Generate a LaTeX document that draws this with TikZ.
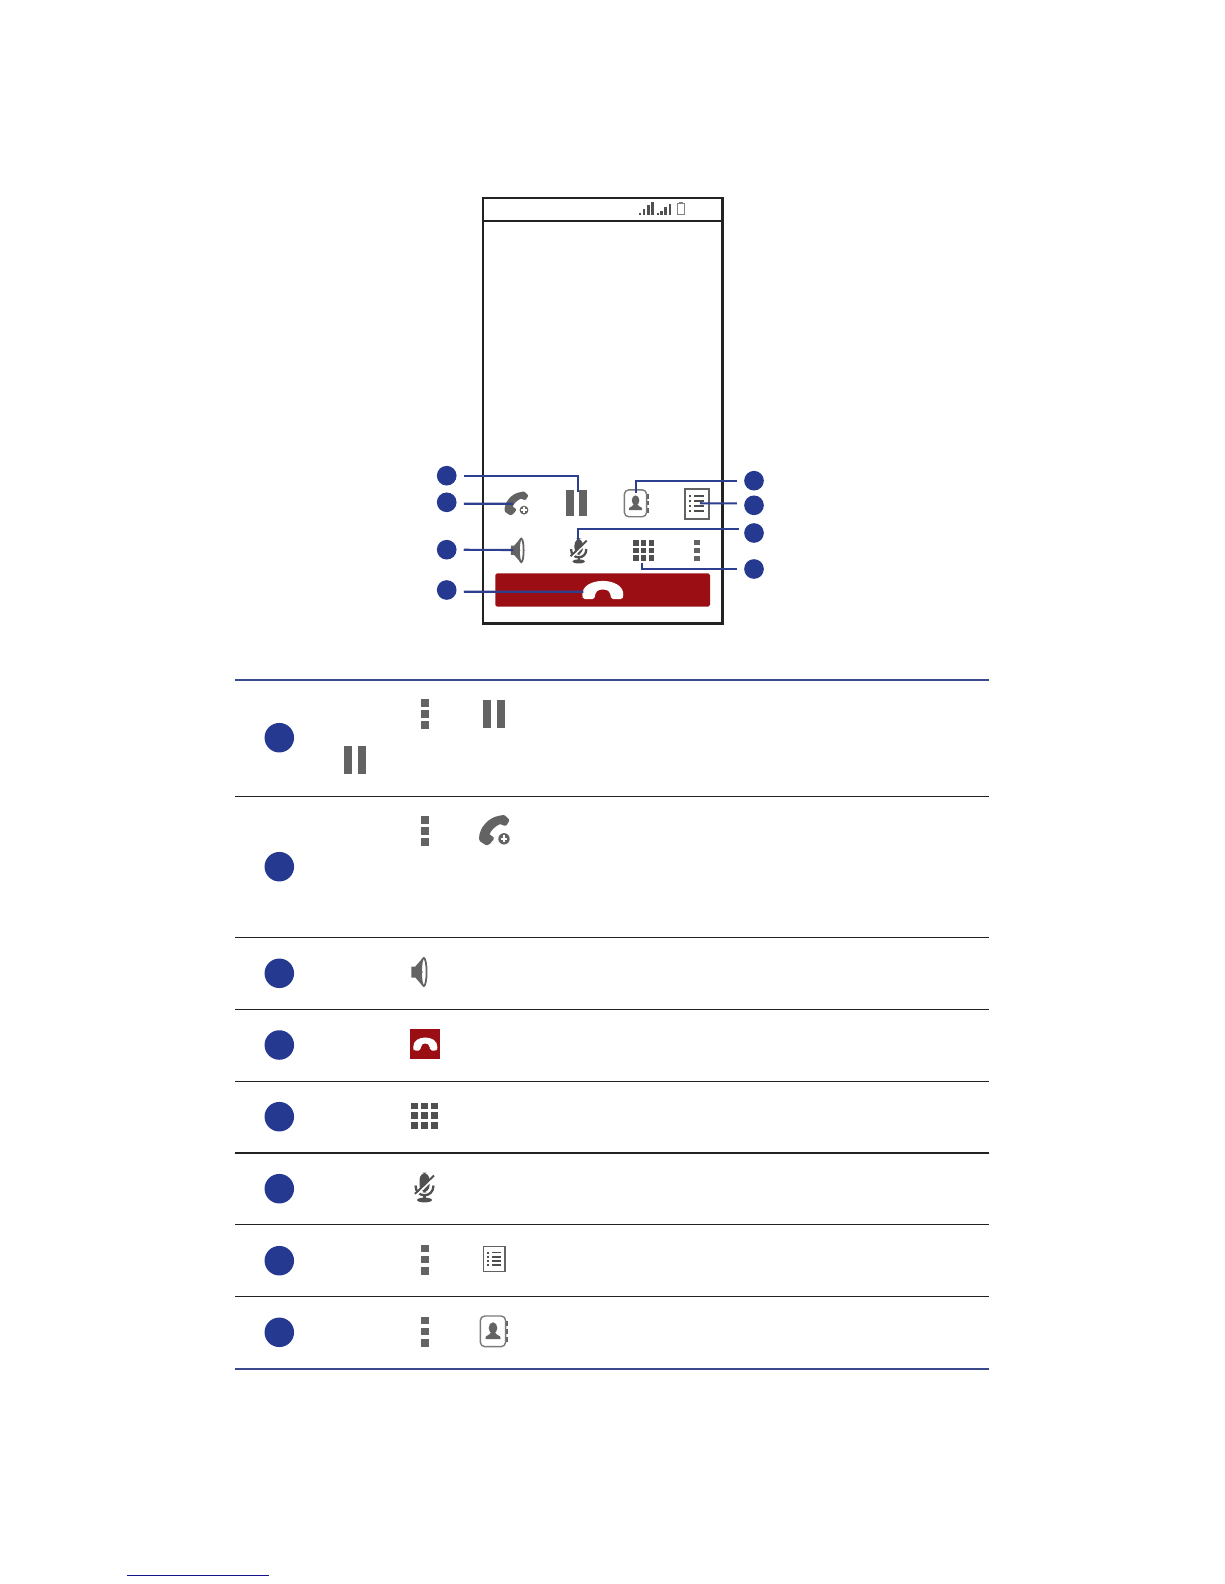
\documentclass[tikz,border=0pt]{standalone}
\usepackage{xcolor}
\usetikzlibrary{arrows.meta,calc}
\definecolor{bulletblue}{HTML}{24398F}
\definecolor{leaderblue}{HTML}{2D3F8E}
\definecolor{ruleblue}{HTML}{3A4A8C}
\definecolor{icongray}{HTML}{636363}
\definecolor{icondark}{HTML}{505050}
\definecolor{endred}{HTML}{9B0E14}
\definecolor{linkblue}{HTML}{14148A}
\definecolor{framedark}{HTML}{222222}
\tikzset{
  bigbullet/.style={circle,fill=bulletblue,inner sep=0pt,minimum size=16.8pt},
  smallbullet/.style={circle,fill=bulletblue,inner sep=0pt,minimum size=11.2pt},
  leader/.style={leaderblue,line width=1.2pt,shorten <=3.9pt},
  tablerule/.style={framedark,line width=0.6pt},
  iconPause/.pic={
    \fill[icongray] (-11,-14) rectangle (-3,14);
    \fill[icongray] (3,-14) rectangle (11,14);
  },
  iconMore/.pic={
    \fill[icongray] (-4,-15) rectangle (4,-7.5);
    \fill[icongray] (-4,-3.6) rectangle (4,3.6);
    \fill[icongray] (-4,7.2) rectangle (4,15);
  },
  iconAdd/.pic={
    \fill[icongray] (-15,8.5) .. controls (-15,-3) and (-5,-13) .. (5,-14.5) -- (9,-15.3) -- (11,-14.8) -- (14.8,-11) -- (15,-9) -- (12.5,-5) -- (10.5,-4.6) -- (6,-6.2) .. controls (1,-4) and (-3,0) .. (-4.5,4) -- (-0.3,7) -- (-0.3,9) -- (-4,13.5) -- (-6.5,14.8) -- (-8.5,14.6) -- (-14,11) -- cycle;
    \fill[icongray] (10,8.5) circle (5.7);
    \draw[white,line width=0.8pt] (6.6,8.5) -- (13.4,8.5) (10,5.1) -- (10,11.9);
  },
  iconSpeaker/.pic={
    \fill[icongray] (-8,-5.5) -- (-4,-5.5) -- (4,-14.7) -- (4,14.7) -- (-4,5.5) -- (-8,5.5) -- cycle;
    \draw[icongray,fill=white,line width=1pt] (4.5,0) ellipse (2.8 and 14);
    \fill[icongray] (1.7,-3.5) -- (3.4,0) -- (1.7,3.5) -- cycle;
  },
  iconHandset/.pic={
    \fill[white,rounded corners=1] (-12,4.5) .. controls (-12.5,-10) and (12.5,-10) .. (12,4.5) -- (11.5,6.3) -- (5,6.3) -- (4.2,1.5) .. controls (2,-1) and (-2,-1) .. (-4.2,1.5) -- (-5,6.3) -- (-11.5,6.3) -- cycle;
  },
  iconKeypad/.pic={
    \foreach \i in {-1,0,1}
      \foreach \j in {-1,0,1}
        \fill[icondark] ({\i*10-3.5},{\j*9.7-3.4}) rectangle ({\i*10+3.5},{\j*9.7+3.4});
  },
  iconMic/.pic={
    \draw[icondark,line width=1.3pt] (-9,-2) .. controls (-9,11) and (9,11) .. (9,-2);
    \draw[icondark,line width=1.3pt] (0,7) -- (0,12);
    \fill[icondark] (0,12.5) ellipse (7.5 and 2.4);
    \fill[icondark,rounded corners=4] (-5,-14.8) rectangle (5,5);
    \draw[white,line width=1.4pt] (10,-10.3) -- (-9,8);
    \draw[icondark,line width=1.1pt] (9.5,-12) -- (-9.5,6.3);
  },
  iconList/.pic={
    \draw[icongray,fill=white,line width=1pt] (-10.8,-12.5) rectangle (10.8,12.5);
    \foreach \k in {-6.5,-2.3,1.9,6} {
      \fill[framedark!80] (-7.3,{\k-1}) rectangle (-5.2,{\k+1});
      \fill[framedark!80] (-2.8,{\k-0.9}) rectangle (6.5,{\k+0.9});
    }
  },
  iconContacts/.pic={
    \foreach \k in {-7.7,0,8.3}
      \fill[icongray] (11,{\k-2.4}) rectangle (14,{\k+2.4});
    \draw[icongray!85,fill=white,line width=0.8pt,rounded corners=2.5] (-14,-15.3) rectangle (11.3,15.3);
    \fill[icongray] (-1.3,-3.3) ellipse (4.3 and 5.7);
    \fill[icongray] (-8.8,7.7) -- (-8.5,5.2) .. controls (-6,3.6) and (-4,3) .. (-3.2,1) -- (0.6,1) .. controls (1.4,3) and (3.4,3.6) .. (5.9,5.2) -- (6.2,7.7) -- cycle;
  }
}
\begin{document}
\begin{tikzpicture}[x=0.02cm,y=-0.02cm]
  \useasboundingbox (0,0) rectangle (1224,1584);
  % phone
  \draw[framedark,line width=1.4pt] (483,198) rectangle (722.7,623.3);
  \draw[framedark,line width=1.2pt] (483,220.7) -- (722.7,220.7);
  \foreach \x/\w/\h in {639.3/1.4/1.5,642.7/2.6/6,646.7/3.3/9.5,650.7/3.3/12.7,657.3/1.4/1.5,660/2.7/4,664/2.7/8,668.7/2/11}
    \fill[icondark] (\x,214.7) rectangle ++(\w,-\h);
  \draw[icongray!80,line width=0.7pt] (677.2,203.5) rectangle (684.6,214.2);
  \fill[icongray!80] (679,202) rectangle (683,203.5);
  \fill[endred,rounded corners=1] (495.3,573.3) rectangle (710,606.7);
  \pic[scale=0.78] at (516.2,503.5) {iconAdd};
  \pic[scale=0.93] at (576.5,503.3) {iconPause};
  \pic[scale=0.88] at (636.7,503.3) {iconContacts};
  \pic[xscale=1.12,yscale=1.2] at (696.8,503.7) {iconList};
  \pic[scale=0.84] at (517.5,550.3) {iconSpeaker};
  \pic[scale=0.85] at (578.7,550.8) {iconMic};
  \pic[scale=0.77] at (643.7,550.5) {iconKeypad};
  \pic[scale=0.71] at (697,550.7) {iconMore};
  \pic[xscale=1.7,yscale=1.4] at (602.8,590.3) {iconHandset};
  % callouts
  \node[smallbullet] (numPause) at (446.7,475.7) {};
  \node[smallbullet] (numAdd) at (446.7,502.3) {};
  \node[smallbullet] (numSpeaker) at (446.7,549.7) {};
  \node[smallbullet] (numEnd) at (446.7,590) {};
  \node[smallbullet] (numContacts) at (754,480.7) {};
  \node[smallbullet] (numList) at (754,505.3) {};
  \node[smallbullet] (numMic) at (754,533) {};
  \node[smallbullet] (numKeypad) at (754,569) {};
  \coordinate (tipPause) at (577.7,491.5);
  \coordinate (tipAdd) at (513,503.7);
  \coordinate (tipSpeaker) at (513.3,550);
  \coordinate (tipEnd) at (583.3,591.7);
  \coordinate (tipContacts) at (636,493.3);
  \coordinate (tipList) at (700,503.3);
  \coordinate (tipMic) at (578.3,540);
  \coordinate (tipKeypad) at (641.7,563.3);
  \draw[leader] (numPause) -| (tipPause);
  \draw[leader] ([yshift=-0.8pt]numAdd.east) -- (tipAdd);
  \draw[leader] (numSpeaker) -- (tipSpeaker);
  \draw[leader] ([yshift=-1pt]numEnd.east) -- (tipEnd);
  \draw[leader] (numContacts) -| (tipContacts);
  \draw[leader] ([yshift=1.1pt]numList.west) -- (tipList);
  \draw[leader,shorten <=3pt] ([yshift=2.4pt]numMic.west) -| (tipMic);
  \draw[leader] (numKeypad) -| (tipKeypad);
  % table
  \draw[ruleblue,line width=1.1pt] (235,680) -- (988.7,680);
  \foreach \y in {796.5,937.5,1009.5,1081.5,1224.5,1296.5}
    \draw[tablerule] (235,\y) -- (988.7,\y);
  \draw[framedark,line width=1.1pt] (235,1153) -- (988.7,1153);
  \draw[ruleblue,line width=1.1pt] (235,1369) -- (988.7,1369);
  \foreach \n/\y in {Pause/737.7,Add/866.7,Speaker/973.3,End/1045,Keypad/1116.7,Mic/1188.7,List/1260.7,Contacts/1332.3}
    \node[bigbullet] (row\n) at (279.3,\y) {};
  \foreach \y in {714,831,1259.7,1331.7}
    \pic at (425,\y) {iconMore};
  \pic at (494,714) {iconPause};
  \pic at (355,759.5) {iconPause};
  \pic at (494,830.3) {iconAdd};
  \pic at (419.3,972) {iconSpeaker};
  \fill[endred] (410,1029) rectangle (440,1059);
  \pic at (425.3,1044.3) {iconHandset};
  \pic at (424.3,1115.7) {iconKeypad};
  \pic at (424.5,1187.5) {iconMic};
  \pic at (494.3,1259) {iconList};
  \pic at (494.3,1331.3) {iconContacts};
  % footer link
  \draw[linkblue,line width=0.6pt] (127,1575.3) -- (269,1575.3);
\end{tikzpicture}
\end{document}
